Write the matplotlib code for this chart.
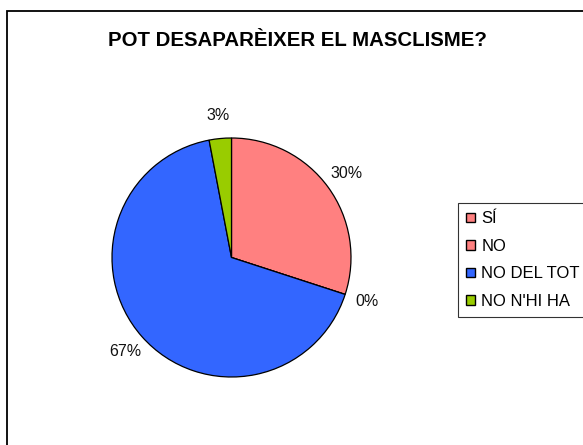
import matplotlib
matplotlib.use('Agg')
import matplotlib.pyplot as plt
from matplotlib.patches import Patch, Rectangle

plt.rcParams['font.family'] = ['Liberation Sans', 'DejaVu Sans']

categories = ['SÍ', 'NO', 'NO DEL TOT', "NO N'HI HA"]
values = [30, 0, 67, 3]
colors = ['#FF8080', '#FF8080', '#3366FF', '#99CC00']
title = 'POT DESAPARÈIXER EL MASCLISME?'

W, H = 583, 445
fig = plt.figure(figsize=(W / 100, H / 100), dpi=100)

# outer chart border (cut off at right and bottom like the original)
fig.patches.append(Rectangle((7 / W, -0.1), 1.2, 1 - 11 / H + 0.1,
                             transform=fig.transFigure, fill=False,
                             edgecolor='black', linewidth=1.3))

fig.text(297.5 / W, 1 - 40 / H, title, ha='center', va='center',
         fontsize=14.7, fontweight='bold')

cx, cy, r = 231.5, 257.5, 119.5
ax = fig.add_axes([(cx - r) / W, 1 - (cy + r) / H, 2 * r / W, 2 * r / H])
wedges, texts = ax.pie(values, colors=colors, startangle=90, counterclock=False,
                       labels=['%d%%' % v for v in values], labeldistance=1.19,
                       wedgeprops=dict(edgecolor='black', linewidth=0.9),
                       textprops=dict(fontsize=11.5, color='#111111'))
for t in texts:
    t.set_ha('center')
    t.set_va('center')
ax.set_aspect('auto')
ax.set_xlim(-1.0, 1.0)
ax.set_ylim(-1.0, 1.0)
ax.axis('off')

handles = [Patch(facecolor=c, edgecolor='black', linewidth=1.0) for c in colors]
leg = fig.legend(handles, categories, loc='upper left',
                 bbox_to_anchor=(458 / W, 0.0, 0.3, 1 - 203 / H),
                 mode='expand', fontsize=12, frameon=True, fancybox=False,
                 edgecolor='black', handlelength=0.5, handleheight=0.5,
                 handletextpad=0.4, labelspacing=0.75, borderpad=0.5,
                 borderaxespad=0)
leg.get_frame().set_linewidth(0.8)

plt.savefig('out.png', dpi=100)
